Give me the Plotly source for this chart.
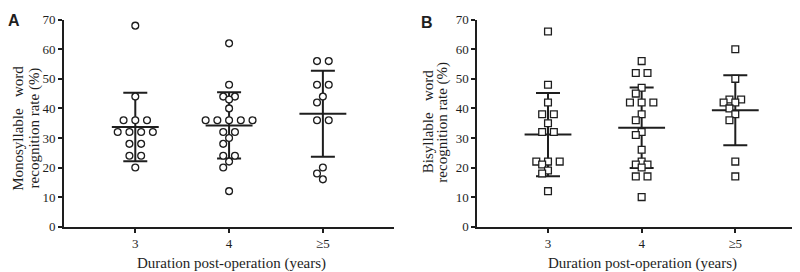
import numpy as np
import plotly.graph_objects as go

# ---------------- data ----------------
categories = ["3", "4", "≥5"]
y_tick_values = [0, 10, 20, 30, 40, 50, 60, 70]

mono_3yr = [68, 44, 36, 36, 36, 32, 32, 32, 32, 28, 28, 24, 24, 20]
mono_4yr = [62, 48, 44, 44, 43, 40, 36, 36, 36, 36, 36, 32, 32, 30, 28, 24, 24, 22, 20, 12]
mono_5yr = [56, 56, 48, 48, 44, 42, 36, 36, 20, 18, 16]

bi_3yr = [66, 48, 42, 38, 38, 35, 32, 32, 22, 22, 22, 21, 19, 18, 12]
bi_4yr = [56, 52, 52, 47, 45, 42, 42, 42, 38, 36, 32, 31, 26, 22, 21, 21, 20, 17, 17, 10]
bi_5yr = [60, 50, 43, 43, 42, 42, 40, 38, 36, 22, 17]

# ---------------- layout constants ----------------
W, H = 800, 272
PLOT_TOP, PLOT_BOTTOM = 5, 224
A_LEFT, A_RIGHT = 56, 385.7
B_LEFT, B_RIGHT = 469.3, 798
A_XRANGE = [0.24, 3.755]
B_XRANGE = [0.245, 3.755]
Y_RANGE = [0, 70]
INK = "#1e1e1e"
SERIF = "Liberation Serif, Times New Roman, serif"
SANS = "Liberation Sans, Arial, sans-serif"
NB = "\u00a0"


def swarm_offsets(values, xpx, ypx, step=0.125, min_dist=6.4):
    """Simple GraphPad-like scatter spreading computed from the values."""
    vals = np.asarray(values, float)
    offs = np.zeros(len(vals))
    placed = []
    for v in sorted(set(vals), reverse=True):
        idx = np.where(vals == v)[0]
        n = len(idx)
        base = np.arange(n) - (n - 1) / 2
        chosen, best_s, best_d = None, 0, -1
        for s in (0, -0.5, 0.5):
            xs = (base + s) * step * xpx
            d = min((np.hypot(x - px, (v - pv) * ypx) for x in xs for px, pv in placed),
                    default=np.inf)
            if d >= min_dist:
                chosen = s
                break
            if d > best_d:
                best_d, best_s = d, s
        if chosen is None:
            chosen = best_s
        for k, i in enumerate(idx):
            offs[i] = (base[k] + chosen) * step
            placed.append((offs[i] * xpx, v))
    return offs


fig = go.Figure()

panels = [
    dict(groups=[mono_3yr, mono_4yr, mono_5yr], xa="x", ya="y", symbol="circle",
         left=A_LEFT, right=A_RIGHT, xr=A_XRANGE),
    dict(groups=[bi_3yr, bi_4yr, bi_5yr], xa="x2", ya="y2", symbol="square",
         left=B_LEFT, right=B_RIGHT, xr=B_XRANGE),
]

ypx = (PLOT_BOTTOM - PLOT_TOP) / (Y_RANGE[1] - Y_RANGE[0])

for p in panels:
    xpx = (p["right"] - p["left"]) / (p["xr"][1] - p["xr"][0])
    for gi, vals in enumerate(p["groups"]):
        xc = gi + 1
        arr = np.asarray(vals, float)
        m = arr.mean()
        sd = arr.std(ddof=1)
        # mean line
        fig.add_trace(go.Scatter(
            x=[xc - 0.25, xc + 0.25], y=[m, m], mode="lines",
            line=dict(color=INK, width=2), xaxis=p["xa"], yaxis=p["ya"],
            hoverinfo="skip"))
        # SD error bar
        fig.add_trace(go.Scatter(
            x=[xc], y=[m], mode="markers",
            marker=dict(size=1, color="rgba(0,0,0,0)"),
            error_y=dict(type="data", array=[sd], visible=True, color=INK,
                         thickness=2, width=12),
            xaxis=p["xa"], yaxis=p["ya"], hoverinfo="skip"))
    for gi, vals in enumerate(p["groups"]):
        xc = gi + 1
        offs = swarm_offsets(vals, xpx, ypx)
        fig.add_trace(go.Scatter(
            x=xc + offs, y=vals, mode="markers",
            marker=dict(symbol=p["symbol"], size=6.8, color="white",
                        line=dict(color=INK, width=1.3)),
            xaxis=p["xa"], yaxis=p["ya"]))

axis_common = dict(
    showline=True, linewidth=2, linecolor=INK, ticks="outside", ticklen=4,
    tickwidth=2, tickcolor=INK, showgrid=False, zeroline=False,
    ticklabeloverflow="allow",
    tickfont=dict(family=SERIF, size=13, color=INK),
)
ydom = [(H - PLOT_BOTTOM) / H, (H - PLOT_TOP) / H]

fig.update_layout(
    width=W, height=H, margin=dict(l=0, r=0, t=0, b=0),
    paper_bgcolor="white", plot_bgcolor="white", showlegend=False,
    xaxis=dict(domain=[A_LEFT / W, A_RIGHT / W], range=A_XRANGE,
               tickvals=[1, 2, 3], ticktext=categories, anchor="y", **axis_common),
    yaxis=dict(domain=ydom, range=Y_RANGE, tickvals=y_tick_values, anchor="x",
               **axis_common),
    xaxis2=dict(domain=[B_LEFT / W, B_RIGHT / W], range=B_XRANGE,
                tickvals=[1, 2, 3], ticktext=categories, anchor="y2", **axis_common),
    yaxis2=dict(domain=ydom, range=Y_RANGE, tickvals=y_tick_values, anchor="x2",
                **axis_common),
)

def ann(text, x, y, size=15, angle=0, family=SERIF, bold=False):
    fig.add_annotation(
        text=f"<b>{text}</b>" if bold else text, x=x / W, y=(H - y) / H,
        xref="paper", yref="paper", showarrow=False, textangle=angle,
        xanchor="center", yanchor="middle",
        font=dict(family=family, size=size, color=INK))

ann("Monosyllable" + NB * 3 + "word", 9.9, 119.5, angle=-90)
ann("recognition rate (%)", 26.5, 119.5, angle=-90)
ann("Bisyllable" + NB * 3 + "word", 419.9, 112.5, angle=-90)
ann("recognition rate (%)", 434.9, 113, angle=-90)
ann("Duration post-operation (years)", 223.8, 262.5)
ann("Duration post-operation (years)", 634, 262.5)
ann("A", 6.3, 6.3, size=16, family=SANS, bold=True)
ann("B", 419, 7.8, size=16, family=SANS, bold=True)

fig.write_html("out.html")
